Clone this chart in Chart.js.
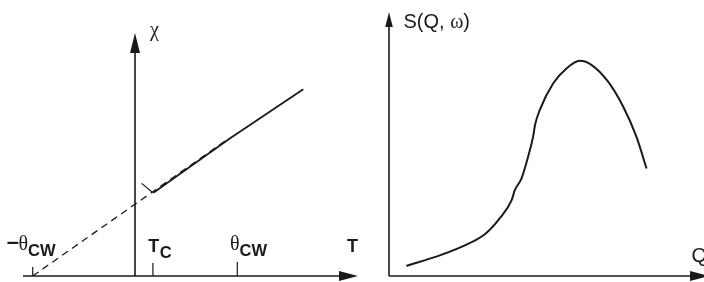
<!DOCTYPE html>
<html><head><meta charset="utf-8">
<script src="https://cdn.jsdelivr.net/npm/chart.js@4"></script>
<style>
html,body{margin:0;padding:0;background:#fff;overflow:hidden;width:704px;height:282px;position:relative;}
canvas{position:absolute;top:0;}
#left{left:0;}
#right{left:365px;}
</style></head><body>
<canvas id="left" width="365" height="282"></canvas>
<canvas id="right" width="350" height="282"></canvas>
<script>
// ---- Left panel: chi vs T (T in units of theta_CW) ----
const curieWeissT   = [-1, 0.9];
const curieWeissChi = [0, 1.9];
const measuredT     = [0.18, 0.93, 1.645];
const measuredChi   = [1.16, 1.92, 2.60];
const tcMarkT       = [0.065, 0.175];
const tcMarkChi     = [1.29, 1.16];
const tempTicks     = [-1, 0.175, 1];
const tickMain      = ['−θ', 'T', 'θ'];
const tickSub       = ['CW', 'C', 'CW'];
const leftYLabel    = 'χ';
const leftXLabel    = 'T';

// ---- Right panel: S(Q, ω) vs Q ----
const qValues = [0.55, 1.61, 2.35, 3.04, 3.51, 3.89, 3.99, 4.20, 4.41, 4.57, 4.63, 4.78, 5.21, 5.63, 6.05, 6.43, 6.95, 7.43, 7.85, 8.17];
const sValues = [0.38, 0.78, 1.13, 1.58, 2.18, 2.87, 3.25, 3.69, 4.51, 5.27, 5.71, 6.28, 7.30, 7.86, 8.15, 7.99, 7.36, 6.41, 5.27, 4.07];
const rightYLabel = ['S(Q, ', 'ω', ')'];
const rightXLabel = 'Q';

const INK = '#1a1a1a';
const SANS = '"Liberation Sans", Arial, sans-serif';
const SERIF = '"Liberation Serif", "Times New Roman", serif';

function pts(xs, ys) { return xs.map((x, i) => ({x: x, y: ys[i]})); }

function arrow(ctx, tipX, tipY, dir, len, half) {
  ctx.beginPath();
  if (dir === 'up') {
    ctx.moveTo(tipX, tipY); ctx.lineTo(tipX - half, tipY + len); ctx.lineTo(tipX + half, tipY + len);
  } else {
    ctx.moveTo(tipX, tipY); ctx.lineTo(tipX - len, tipY - half); ctx.lineTo(tipX - len, tipY + half);
  }
  ctx.closePath(); ctx.fillStyle = INK; ctx.fill();
}
function line(ctx, x1, y1, x2, y2, w) {
  ctx.beginPath(); ctx.moveTo(x1, y1); ctx.lineTo(x2, y2);
  ctx.lineWidth = w; ctx.strokeStyle = INK; ctx.stroke();
}
function text(ctx, s, x, y, font) {
  ctx.font = font; ctx.fillStyle = INK; ctx.textAlign = 'left'; ctx.textBaseline = 'alphabetic';
  ctx.fillText(s, x, y); return x + ctx.measureText(s).width;
}

const leftAxes = {
  id: 'leftAxes',
  afterDraw(chart) {
    const ctx = chart.ctx, xs = chart.scales.x, ys = chart.scales.y;
    ctx.save();
    const x0 = xs.getPixelForValue(0), y0 = ys.getPixelForValue(0);
    const xEnd = xs.getPixelForValue(xs.max), yTop = ys.getPixelForValue(ys.max);
    line(ctx, xs.getPixelForValue(xs.min), y0, xEnd - 10, y0, 1.6);
    arrow(ctx, xEnd, y0, 'right', 19, 5);
    line(ctx, x0, y0, x0, yTop + 10, 1.6);
    arrow(ctx, x0, yTop, 'up', 20, 5);
    const tickLen = [9, 13, 14];
    const labOff = [-26, -4.7, -7.3];
    tempTicks.forEach((t, i) => {
      const px = xs.getPixelForValue(t);
      line(ctx, px, y0, px, y0 - tickLen[i], 1.2);
      let x = px + labOff[i];
      const m = tickMain[i];
      if (m === 'T') {
        x = text(ctx, 'T', x, 252, 'bold 18px ' + SANS);
        text(ctx, tickSub[i], x + 0.5, 257.5, 'bold 16.5px ' + SANS);
      } else {
        if (m[0] === '−') { x = text(ctx, '–', x, 249, 'bold 22px ' + SANS) - 0.5; }
        x = text(ctx, 'θ', x, 250, '20px ' + SERIF);
        text(ctx, tickSub[i], x, 255.5, 'bold 16.5px ' + SANS);
      }
    });
    text(ctx, leftYLabel, x0 + 15, 36, '20px ' + SERIF);
    text(ctx, leftXLabel, xEnd - 11, 252, 'bold 18px ' + SANS);
    ctx.restore();
  }
};

const rightAxes = {
  id: 'rightAxes',
  afterDraw(chart) {
    const ctx = chart.ctx, xs = chart.scales.x, ys = chart.scales.y;
    ctx.save();
    const x0 = xs.getPixelForValue(0), y0 = ys.getPixelForValue(0);
    const xEnd = xs.getPixelForValue(xs.max), yTop = ys.getPixelForValue(ys.max);
    line(ctx, x0, y0, xEnd - 10, y0, 1.6);
    arrow(ctx, xEnd, y0, 'right', 19, 5);
    line(ctx, x0, y0, x0, yTop + 8, 1.6);
    arrow(ctx, x0, yTop, 'up', 15, 3.8);
    let x = x0 + 14.5;
    x = text(ctx, rightYLabel[0], x, 28, '20px ' + SANS);
    x = text(ctx, rightYLabel[1], x, 28, '20px ' + SERIF);
    text(ctx, rightYLabel[2], x, 28, '20px ' + SANS);
    text(ctx, rightXLabel, x0 + 302.5, 261.5, '20px ' + SANS);
    ctx.restore();
  }
};

const commonOpts = {
  responsive: false, animation: false, events: [],
  plugins: { legend: { display: false }, tooltip: { enabled: false }, title: { display: false } },
  elements: { point: { radius: 0 } }
};

new Chart(document.getElementById('left'), {
  type: 'scatter',
  data: { datasets: [
    { data: pts(curieWeissT, curieWeissChi), showLine: true, borderColor: INK, borderWidth: 1.3, borderDash: [7, 5], pointRadius: 0, clip: false },
    { data: pts(measuredT, measuredChi), showLine: true, borderColor: INK, borderWidth: 1.8, tension: 0, pointRadius: 0, clip: false },
    { data: pts(tcMarkT, tcMarkChi), showLine: true, borderColor: INK, borderWidth: 1.2, pointRadius: 0, clip: false }
  ]},
  options: Object.assign({}, commonOpts, {
    layout: { padding: { left: 23, right: 7, top: 33, bottom: 6 } },
    scales: {
      x: { type: 'linear', display: false, min: -1.095, max: 2.18 },
      y: { type: 'linear', display: false, min: 0, max: 3.385 }
    }
  }),
  plugins: [leftAxes]
});

new Chart(document.getElementById('right'), {
  type: 'scatter',
  data: { datasets: [
    { data: pts(qValues, sValues), showLine: true, borderColor: INK, borderWidth: 2, cubicInterpolationMode: 'monotone', pointRadius: 0, clip: false }
  ]},
  options: Object.assign({}, commonOpts, {
    layout: { padding: { left: 24, right: 6, top: 12, bottom: 6 } },
    scales: {
      x: { type: 'linear', display: false, min: 0, max: 10.15 },
      y: { type: 'linear', display: false, min: 0, max: 10 }
    }
  }),
  plugins: [rightAxes]
});
</script>
</body></html>
